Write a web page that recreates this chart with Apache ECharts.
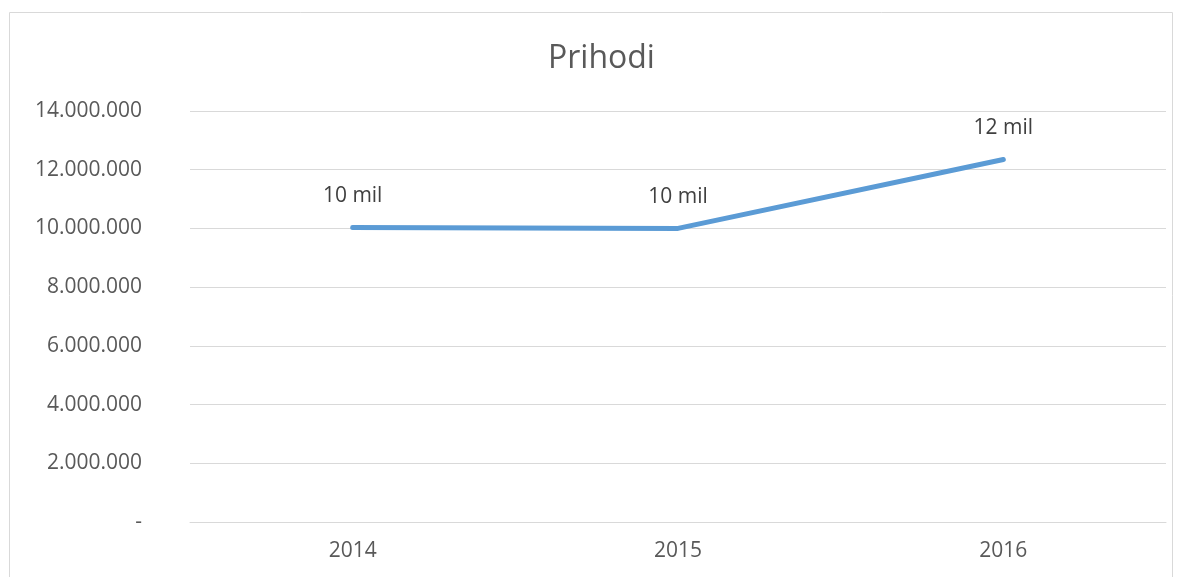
<!DOCTYPE html>
<html>
<head>
<meta charset="utf-8">
<script src="https://cdn.jsdelivr.net/npm/echarts@6/dist/echarts.min.js"></script>
<style>
  html, body { margin: 0; padding: 0; background: #fff; }
  #chart { width: 1183px; height: 577px; }
</style>
</head>
<body>
<div id="chart"></div>
<script>
// data
var years = ['2014', '2015', '2016'];
var prihodi = [10030000, 10000000, 12350000];
var yTicks = [0, 2000000, 4000000, 6000000, 8000000, 10000000, 12000000, 14000000];

var chart = echarts.init(document.getElementById('chart'));

function formatThousands(v) {
  if (v === 0) return '-';
  return String(v).replace(/\B(?=(\d{3})+(?!\d))/g, '.');
}

chart.setOption({
  animation: false,
  title: {
    text: 'Prihodi',
    left: 543,
    top: 38,
    textStyle: {
      fontFamily: 'Open Sans',
      fontSize: 32,
      fontWeight: 'normal',
      color: '#595959'
    }
  },
  graphic: [{
    type: 'rect',
    shape: { x: 9.5, y: 12.5, width: 1163, height: 600 },
    style: { fill: 'none', stroke: '#d9d9d9', lineWidth: 1 },
    silent: true
  }],
  grid: { left: 190, right: 17, top: 111, bottom: 55 },
  xAxis: {
    type: 'category',
    data: years,
    axisLine: { show: true, lineStyle: { color: '#d9d9d9' } },
    axisTick: { show: false },
    axisLabel: {
      margin: 19,
      fontFamily: 'Open Sans',
      fontSize: 21,
      color: '#595959'
    }
  },
  yAxis: {
    type: 'value',
    min: yTicks[0],
    max: yTicks[yTicks.length - 1],
    interval: 2000000,
    axisLine: { show: false },
    axisTick: { show: false },
    splitLine: { lineStyle: { color: '#d9d9d9', width: 1 } },
    axisLabel: {
      margin: 48,
      fontFamily: 'Open Sans',
      fontSize: 21,
      color: '#595959',
      formatter: formatThousands
    }
  },
  series: [{
    type: 'line',
    data: prihodi,
    symbol: 'circle',
    symbolSize: 0,
    showSymbol: true,
    lineStyle: { color: '#5b9bd5', width: 5, cap: 'round' },
    itemStyle: { color: '#5b9bd5' },
    label: {
      show: true,
      position: 'top',
      distance: 21,
      fontFamily: 'Open Sans',
      fontSize: 21,
      color: '#404040',
      formatter: function (p) { return Math.round(p.value / 1000000) + ' mil'; }
    }
  }]
});
</script>
</body>
</html>
